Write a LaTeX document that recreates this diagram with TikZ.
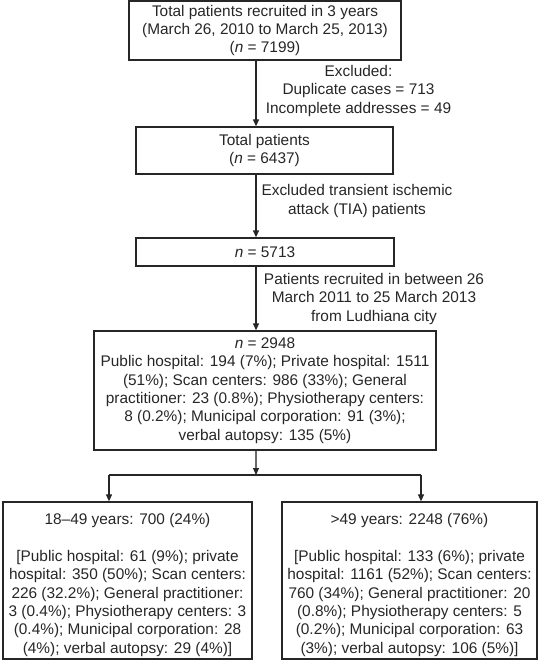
\documentclass[tikz,border=0pt]{standalone}
\usepackage{fontspec}
\setmainfont{Liberation Sans}
\usetikzlibrary{arrows.meta}
\definecolor{ink}{HTML}{262626}
\definecolor{soft}{HTML}{6A6A6A}
\begin{document}
\begin{tikzpicture}[x=1pt,y=-1pt,
  box/.style={draw=ink, line width=1.3pt, text=ink, align=center, inner sep=0pt, font=\fontsize{15.4}{18.4}\selectfont},
  note/.style={text=ink, align=center, inner sep=0pt, font=\fontsize{15.4}{18.4}\selectfont},
  link/.style={draw=ink, line width=1.2pt},
  arr/.style={link, -{Triangle[length=7pt,width=6pt]}},
]
\useasboundingbox (0,0) rectangle (540,666);
\coordinate (a) at (256,0);
% main column
\node[box, minimum width=272pt, minimum height=59pt] (b1) at (265,30.5)
  {Total patients recruited in 3 years\\(March 26, 2010 to March 25, 2013)\\(\textit{n} = 7199)};
\node[box, minimum width=257pt, minimum height=47pt] (b2) at (264.5,150.5)
  {Total patients\\(\textit{n} = 6437)};
\node[box, minimum width=258pt, minimum height=28pt] (b3) at (265,252)
  {\textit{n} = 5713};
\node[box, minimum width=342pt, minimum height=119pt] (b4) at (265,390.5)
  {\textit{n} = 2948\\Public hospital: 194 (7\%); Private hospital: 1511\\(51\%); Scan centers: 986 (33\%); General\\practitioner: 23 (0.8\%); Physiotherapy centers:\\8 (0.2\%); Municipal corporation: 91 (3\%);\\verbal autopsy: 135 (5\%)};
\node[box, minimum width=249pt, minimum height=157pt] (b5) at (127.5,580.5)
  {\rule{0pt}{20pt}18–49 years: 700 (24\%)\\[18.4pt][Public hospital: 61 (9\%); private\\hospital: 350 (50\%); Scan centers:\\226 (32.2\%); General practitioner:\\3 (0.4\%); Physiotherapy centers: 3\\(0.4\%); Municipal corporation: 28\\(4\%); verbal autopsy: 29 (4\%)]};
\node[box, minimum width=255pt, minimum height=157pt] (b6) at (409.5,580.5)
  {\rule{0pt}{20pt}>49 years: 2248 (76\%)\\[18.4pt][Public hospital: 133 (6\%); private\\hospital: 1161 (52\%); Scan centers:\\760 (34\%); General practitioner: 20\\(0.8\%); Physiotherapy centers: 5\\(0.2\%); Municipal corporation: 63\\(3\%); verbal autopsy: 106 (5\%)]};
% side notes
\node[note] (ex) at (358.5,91) {Excluded:\\Duplicate cases = 713\\Incomplete addresses = 49};
\node[note] (tia) at (357,201) {Excluded transient ischemic\\attack (TIA) patients};
\node[note] (pr) at (374,299) {Patients recruited in between 26\\March 2011 to 25 March 2013\\from Ludhiana city};
% connectors
\draw[arr] (b1.south -| a) -- (b2.north -| a);
\draw[arr] (b2.south -| a) -- (b3.north -| a);
\draw[arr] (b3.south -| a) -- (b4.north -| a);
\coordinate (j) at (256,475);
\coordinate (jl) at (109,475);
\coordinate (jr) at (421,475);
\draw[link, draw=soft, -{Triangle[length=7pt,width=6pt,color=ink]}] (b4.south -| j) -- (j);
\draw[link] (jl) -- (jr);
\draw[arr] (jl) -- (b5.north -| jl);
\draw[arr] (jr) -- (b6.north -| jr);
\end{tikzpicture}
\end{document}
